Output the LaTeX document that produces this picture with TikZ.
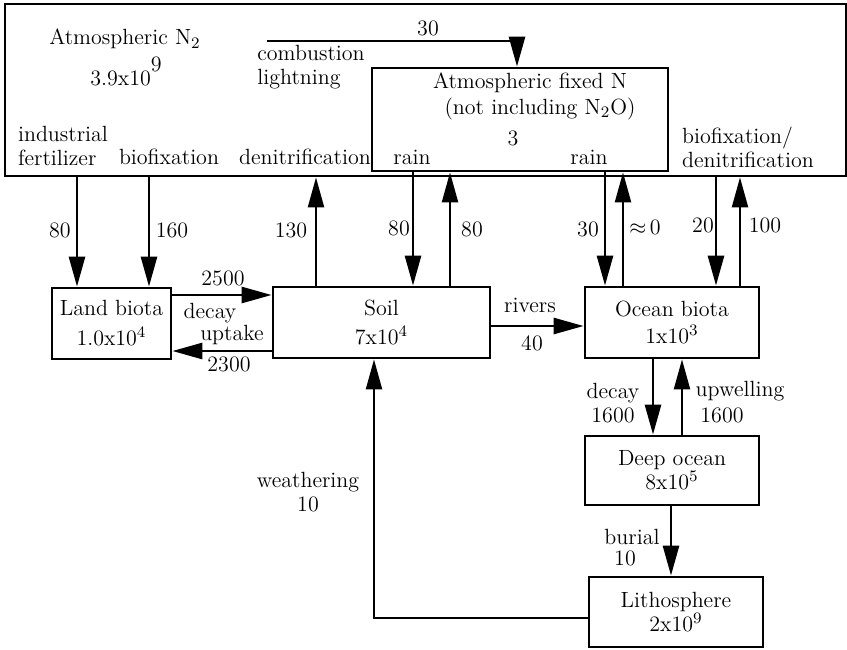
\documentclass[tikz,border=0pt]{standalone}
\usetikzlibrary{arrows.meta, calc}

\begin{document}
\begin{tikzpicture}[x=0.5pt, y=-0.5pt,
    font=\fontsize{11}{12}\selectfont,
    box/.style={draw, line width=1.4pt, align=center, inner sep=1pt,
                minimum width=#1},
    flow/.style={-{Triangle[length=15pt, width=8pt]}, line width=1.4pt},
    back/.style={flow, line width=1.1pt},
    lbl/.style={inner sep=0pt, align=left},
]
    \useasboundingbox (0,0) rectangle (847,649);

    % Reservoirs
    \node[box=420.5pt, minimum height=86pt] (atm) at (425.5, 90) {};
    \node[box=148pt, minimum height=51.5pt, fill=white] (fixN) at (520, 119.5) {};
    \node[box=59.5pt, minimum height=35.5pt] (land) at (111.5, 323.5)
        {Land biota\\[3pt]1.0x10$^4$};
    \node[box=108.5pt, minimum height=35.5pt] (soil) at (381.5, 322.5)
        {Soil\\[2.5pt]7x10$^4$};
    \node[box=87pt, minimum height=35.5pt] (ocean) at (672, 322.5)
        {Ocean biota\\[1.5pt]1x10$^3$};
    \node[box=87pt, minimum height=34.5pt] (deep) at (672, 470.5)
        {Deep ocean\\8x10$^5$};
    \node[box=87pt, minimum height=35pt] (litho) at (676, 612)
        {Lithosphere\\2x10$^9$};

    % Texts in the atmosphere
    \node[lbl] (atmname) at (125, 39) {Atmospheric N$_2$};
    \node[lbl, anchor=base west] (atmval) at (90, 85) {3.9x10\raisebox{7pt}{9}};
    \node[lbl] (comblbl) at (311, 67) {combustion\\lightning};
    \node[lbl, align=center] (fixname) at (530, 96)
        {Atmospheric fixed N\\[1pt]\hspace*{10pt}(not including N$_2$O)};
    \node[lbl] (fixval) at (513, 138) {3};
    \node[lbl] (rainA) at (412, 157) {rain};
    \node[lbl] (rainB) at (589, 157) {rain};
    \node[lbl] (indlbl) at (63, 146) {industrial\\fertilizer};
    \node[lbl] (biolbl) at (169, 157) {biofixation};
    \node[lbl] (denlbl) at (305, 157) {denitrification};
    \node[lbl] (oceanlbl) at (748, 147) {biofixation/\\denitrification};

    % Flow values
    \node[lbl] (vFert) at (60, 230) {80};
    \node[lbl] (vBio) at (172, 230) {160};
    \node[lbl] (vDen) at (291, 230) {130};
    \node[lbl] (vRainA) at (399, 228) {80};
    \node[lbl] (vSoilUp) at (472, 229) {80};
    \node[lbl] (vRainB) at (588, 229) {30};
    \node[lbl] (vOceanUp) at (645, 227) {$\approx$\,0};
    \node[lbl] (vOceanFix) at (703, 225) {20};
    \node[lbl] (vOceanDen) at (765, 225) {100};
    \node[lbl] (vComb) at (428, 28) {30};
    \node[lbl] (vDecay) at (223, 278) {2500};
    \node[lbl] (decaylbl) at (210, 313) {decay};
    \node[lbl] (uptakelbl) at (232, 335) {uptake};
    \node[lbl] (vUptake) at (229, 364) {2300};
    \node[lbl] (riverlbl) at (530, 305) {rivers};
    \node[lbl] (vRiver) at (532, 343) {40};
    \node[lbl, align=center] (sinklbl) at (613, 403) {decay\\1600};
    \node[lbl] (upwlbl) at (740, 391) {upwelling};
    \node[lbl] (vUpw) at (722, 415) {1600};
    \node[lbl] (buriallbl) at (632, 537) {burial};
    \node[lbl] (vBurial) at (625, 558) {10};
    \node[lbl, align=center] (weathlbl) at (308, 492) {weathering\\10};

    % Exchanges with the atmosphere
    \coordinate (comb) at (267, 41);
    \draw[flow] (comb) -| (fixN.north -| 517,0);
    \draw[flow] (atm.south -| 77,0) -- (land.north -| 77,0);
    \draw[flow] (atm.south -| 149,0) -- (land.north -| 149,0);
    \draw[back] (soil.north -| 316,0) -- (atm.south -| 316,0);
    \draw[flow] (fixN.south -| 413,0) -- (soil.north -| 413,0);
    \draw[back] (soil.north -| 450,0) -- (fixN.south -| 450,0);
    \draw[flow] (fixN.south -| 605,0) -- (ocean.north -| 605,0);
    \draw[back] (ocean.north -| 623,0) -- (fixN.south -| 623,0);
    \draw[flow] (atm.south -| 716,0) -- (ocean.north -| 716,0);
    \draw[back] (ocean.north -| 740,0) -- (atm.south -| 740,0);

    % Land and ocean flows
    \draw[flow] (land.east |- 0,295) -- (soil.west |- 0,295);
    \draw[flow] (soil.west |- 0,351) -- (land.east |- 0,351);
    \draw[flow] (soil.east |- 0,326) -- (ocean.west |- 0,326);
    \draw[flow] (ocean.south -| 653,0) -- (deep.north -| 653,0);
    \draw[back] (deep.north -| 682,0) -- (ocean.south -| 682,0);
    \draw[flow] (deep.south -| 671,0) -- (litho.north -| 671,0);
    \draw[back] (litho.west |- 0,618) -| (soil.south -| 374,0);
\end{tikzpicture}
\end{document}
